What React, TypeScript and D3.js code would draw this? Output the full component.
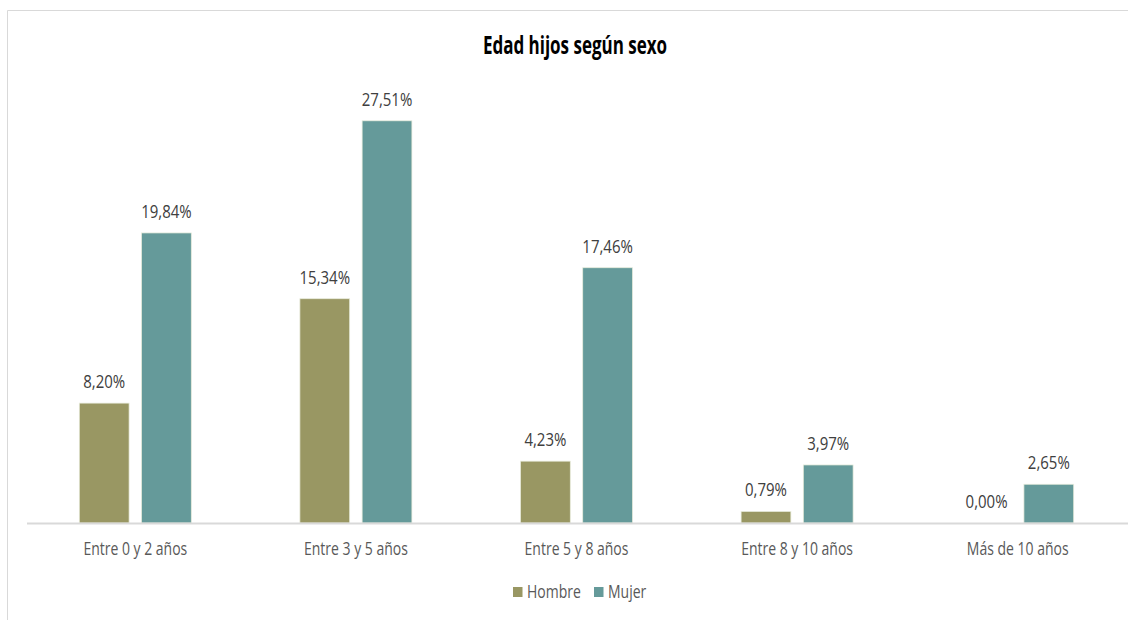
import React from "react";
import * as d3 from "d3";

const categories = ["Entre 0 y 2 años", "Entre 3 y 5 años", "Entre 5 y 8 años", "Entre 8 y 10 años", "Más de 10 años"];
const seriesNames = ["Hombre", "Mujer"];
const hombre = [8.2, 15.34, 4.23, 0.79, 0.0];
const mujer = [19.84, 27.51, 17.46, 3.97, 2.65];
const colors = ["#999763", "#659a9a"];
const title = "Edad hijos según sexo";

const W = 1128;
const H = 620;
const FONT = "'Open Sans', 'Noto Sans', sans-serif";
const SY = 1.25;

function T(props: { x: number; y: number; sy?: number; children: React.ReactNode; [k: string]: any }) {
  const { x, y, sy = SY, children, ...rest } = props;
  return (
    <text transform={`translate(${x},${y}) scale(1,${sy})`} fontFamily={FONT} {...rest}>
      {children}
    </text>
  );
}

export default function App() {
  const x = d3.scaleBand<string>().domain(categories).range([25, 1128]).paddingInner(0).paddingOuter(0);
  const xs = d3.scaleBand<string>().domain(seriesNames).range([0, 112]).paddingInner(0.2).paddingOuter(0);
  const y = d3.scaleLinear().domain([0, 30]).range([523, 84.4]);
  const series = [hombre, mujer];
  const fmt = (v: number) => v.toFixed(2).replace(".", ",") + "%";
  const legendX = [513, 594];

  return (
    <svg width={W} height={H} style={{ position: "absolute", left: 0, top: 0, background: "#fff" }}>
      <rect x={0} y={0} width={W} height={H} fill="#fff" />
      <line x1={7.5} y1={10.5} x2={W} y2={10.5} stroke="#d9d9d9" strokeWidth={1} />
      <line x1={7.5} y1={10.5} x2={7.5} y2={H} stroke="#d9d9d9" strokeWidth={1} />
      <T x={575} y={54} sy={1.45} textAnchor="middle" fontWeight={700} fontSize={17} fill="#000">
        {title}
      </T>
      {categories.map((c, i) => {
        const cx = (x(c) as number) + x.bandwidth() / 2;
        const gx = cx - 56;
        return (
          <g key={c}>
            {seriesNames.map((s, j) => {
              const v = series[j][i];
              const bx = gx + (xs(s) as number);
              const bw = xs.bandwidth();
              return (
                <g key={s}>
                  {v > 0 && (
                    <rect x={bx} y={y(v)} width={bw} height={y(0) - y(v)} fill={colors[j]} stroke="#e8ecdc" strokeWidth={0.75} />
                  )}
                  <T x={bx + bw / 2} y={y(v) - 15} textAnchor="middle" fontSize={15} fill="#404040">
                    {fmt(v)}
                  </T>
                </g>
              );
            })}
            <T x={cx} y={555} textAnchor="middle" fontSize={14} fill="#595959">
              {c}
            </T>
          </g>
        );
      })}
      <line x1={27} y1={523.5} x2={W} y2={523.5} stroke="#d9d9d9" strokeWidth={2} />
      <g>
        {seriesNames.map((s, j) => {
          const lx = legendX[j];
          return (
            <g key={s}>
              <rect x={lx} y={587} width={9.5} height={10} fill={colors[j]} />
              <T x={lx + 14} y={598} fontSize={14} fill="#595959">
                {s}
              </T>
            </g>
          );
        })}
      </g>
    </svg>
  );
}
